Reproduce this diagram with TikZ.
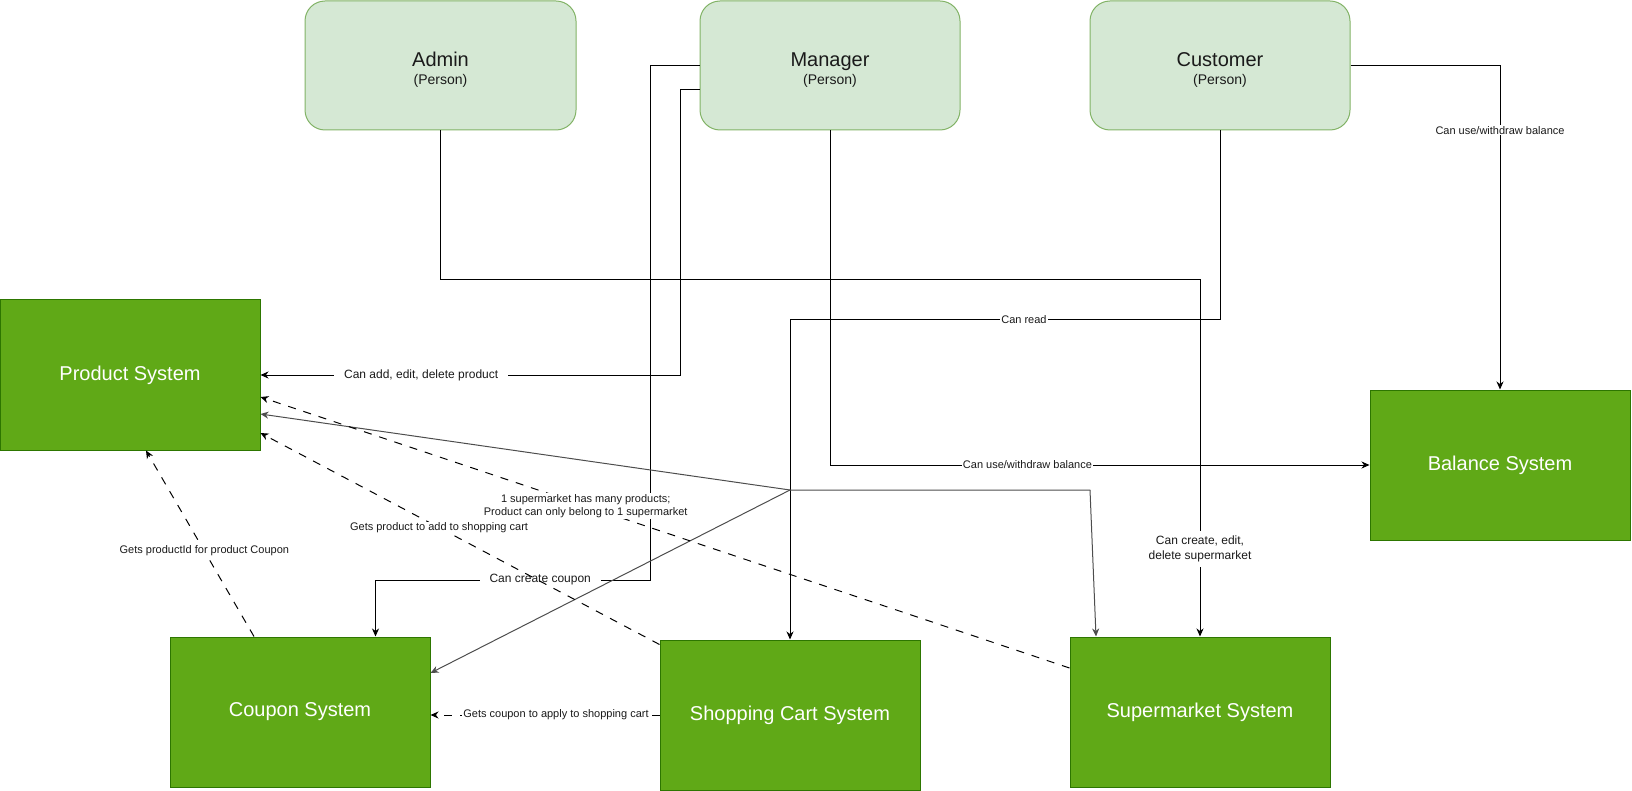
\documentclass[tikz,border=0pt]{standalone}
\usepackage{fontspec}
\setmainfont{Liberation Sans}
\usetikzlibrary{arrows.meta,calc}
\definecolor{pfill}{HTML}{D5E8D4}
\definecolor{pdraw}{HTML}{82B366}
\definecolor{sfill}{HTML}{60A917}
\definecolor{sdraw}{HTML}{2D7600}
\definecolor{gline}{HTML}{4D4D4D}
\definecolor{txt}{HTML}{1A1A1A}
\begin{document}
\begin{tikzpicture}[x=1pt,y=-1pt,
  person/.style={draw=pdraw, fill=pfill, rounded corners=20pt, minimum width=260pt,
    minimum height=129pt, inner sep=0pt, line width=1pt, align=center, text=txt,
    font=\fontsize{14}{18}\selectfont},
  system/.style={draw=sdraw, fill=sfill, minimum width=260pt, minimum height=150pt,
    inner sep=0pt, line width=1pt, text=white, font=\fontsize{20}{24}\selectfont},
  arr/.style={-{Stealth[length=8pt,width=7pt,inset=2.5pt]}, line width=1pt, draw=black},
  garr/.style={arr, draw=gline},
  dsh/.style={arr, dash pattern=on 8pt off 8pt},
  lbl/.style={fill=white, inner xsep=1pt, inner ysep=1pt, font=\fontsize{11}{13}\selectfont, text=txt, align=center},
  lblb/.style={fill=white, inner xsep=10pt, inner ysep=5pt, font=\fontsize{12}{15}\selectfont, text=txt, align=center}
]
\useasboundingbox (0,0) rectangle (1632,791);

% persons
\node[person, minimum width=271pt] (admin) at (440.5,65.5)
  {{\fontsize{20}{21}\selectfont\rule{0pt}{23pt}Admin}\\(Person)};
\node[person] (manager) at (830,65.5)
  {{\fontsize{20}{21}\selectfont\rule{0pt}{23pt}Manager}\\(Person)};
\node[person] (customer) at (1220,65.5)
  {{\fontsize{20}{21}\selectfont\rule{0pt}{23pt}Customer}\\(Person)};

% systems
\node[system] (product) at (130,375) {Product System};
\node[system] (balance) at (1500,465) {Balance System};
\node[system] (coupon) at (300,712) {Coupon System};
\node[system] (cart) at (790,715) {Shopping Cart System};
\node[system] (super) at (1200,712) {Supermarket System};

% waypoints
\coordinate (a1) at (1200,280);
\coordinate (m2a) at (650,65.5);
\coordinate (m2b) at (650,580);
\coordinate (m2c) at (375.5,580);
\coordinate (m3a) at (680,90);
\coordinate (m3b) at (680,375);
\coordinate (c1) at (1220,320);
\coordinate (c2) at (790,320);
\coordinate (J) at (790,490);
\coordinate (K) at (1090,490);

% Admin -> Supermarket
\draw[arr] (admin.south) |- (a1) -- node[lblb,pos=0.755,inner xsep=3pt]{Can create, edit,\\delete supermarket} (super.north);
% Manager -> Coupon
\draw[arr] (manager.west) -- (m2a) -- (m2b) -- node[lblb,pos=0.40]{Can create coupon} (m2c) -- (m2c |- coupon.north);
% Manager -> Product
\draw[arr] ($(manager.west)+(0,24.5)$) -- (m3a) -- (m3b) -- node[lblb,pos=0.617]{Can add, edit, delete product} (product.east);
% Manager -> Balance
\draw[arr] (manager.south) |- node[lbl,pos=0.683]{Can use/withdraw balance} (balance.west);
% Customer -> Cart
\draw[arr] (customer.south) -- (c1) -- node[lbl,pos=0.456]{Can read} (c2) -- (cart.north);
% Customer -> Balance
\draw[arr] (customer.east) -| node[lbl,pos=0.60]{Can use/withdraw balance} (balance.north);

% gray connectors from Supermarket
\draw[garr] (K) -- (J) -- ($(product.east)+(0,39)$);
\draw[garr] (J) -- ($(coupon.east)+(0,-39)$);
\draw[garr] (K) -- ($(super.north)+(-104,0)$);

% dashed dependencies
\draw[dsh] ($(super.west)+(0,-44)$) -- node[lbl,pos=0.598]{1 supermarket has many products;\\Product can only belong to 1 supermarket} ($(product.east)+(0,22)$);
\draw[dsh] ($(cart.north west)+(0,5)$) -- node[lbl,pos=0.5525]{Gets product to add to shopping cart} ($(product.east)+(0,58)$);
\draw[dsh] ($(coupon.north)+(-46,0)$) -- node[lbl,pos=0.46]{Gets productId for product Coupon} ($(product.south)+(16,0)$);
\draw[dsh] (cart.west) -- node[lbl,pos=0.452]{Gets coupon to apply to shopping cart} (coupon.east |- cart.west);
\end{tikzpicture}
\end{document}
